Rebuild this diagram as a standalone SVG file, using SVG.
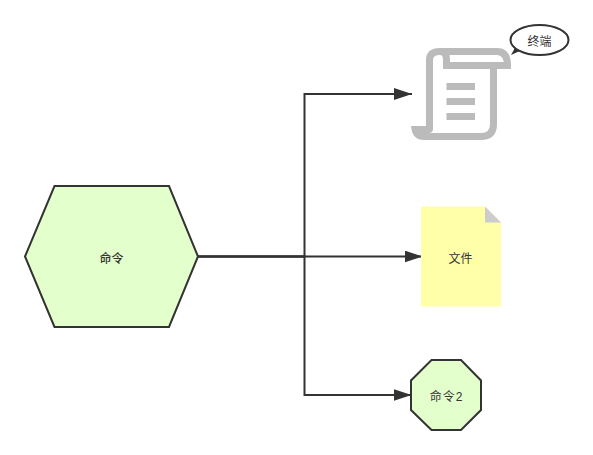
<svg xmlns="http://www.w3.org/2000/svg" width="593" height="455" viewBox="0 0 593 455">
<style>
.t{font-family:"Liberation Sans","Noto Sans CJK SC",sans-serif;font-size:12px;fill:#333;text-anchor:middle}
.c{fill:none;stroke:#333;stroke-width:2}
.n{fill:#e3ffcb;stroke:#333;stroke-width:2}
.s{fill:none;stroke:#bbb;stroke-width:7}
</style>
<defs><marker id="a" markerUnits="userSpaceOnUse" markerWidth="18" markerHeight="12" refX="18" refY="6" orient="auto"><path d="M0 0L18 6L0 12Z" fill="#333"/></marker></defs>
<g id="connectors">
<path class="c" d="M198 256.500H304.500V94H412" marker-end="url(#a)"/>
<path class="c" d="M198 256.500H422.500" marker-end="url(#a)"/>
<path class="c" d="M198 256.500H304.500V395H411.500" marker-end="url(#a)"/>
</g>
<g id="cmd"><polygon class="n" points="25,256.500 54.500,186 169,186 198,256.500 169,327 54.500,327"/><text class="t" x="111.500" y="262.500" font-weight="500">命令</text></g>
<g id="terminal">
<path class="s" d="M429.500 126V60Q429.500 51.500 440 51.500H497Q507.500 51.500 507.500 65.500H446.500V60Q446.500 51.500 440 51.500"/>
<path class="s" d="M493.500 65.500V124Q493.500 136.500 481 136.500H424"/>
<path fill="#bbb" d="M411 126H433V129Q433 133 428.500 133H426V140H424Q412 140 411 126ZM446.500 83H475V90H446.500ZM446.500 98H475V105H446.500ZM446.500 113H475V120H446.500Z"/>
<path d="M511 55L522 50L516 46Z" fill="#333"/>
<ellipse cx="539.500" cy="40" rx="29" ry="15" fill="#fff" stroke="#333" stroke-width="2"/>
<text class="t" x="539.500" y="46">终端</text>
</g>
<g id="file"><path fill="#ffffaa" d="M421 206.500H485L501 222.500V306.500H421Z"/><path fill="#ccc" d="M485 206.500L501 222.500H485Z"/><text class="t" x="460.500" y="263">文件</text></g>
<g id="cmd2"><polygon class="n" points="431.500,360 461,360 481,380.500 481,410 461,430 431.500,430 411,410 411,380.500"/><text class="t" x="446.500" y="401" letter-spacing="1">命令2</text></g>
</svg>
